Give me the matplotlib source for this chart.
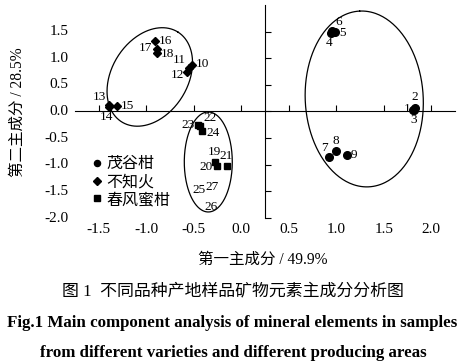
import numpy as np
import matplotlib
matplotlib.use("Agg")
import matplotlib.pyplot as plt
from matplotlib.transforms import offset_copy

cjk = ["Liberation Serif", "Noto Sans CJK SC"]

# 茂谷柑 (1-9)
mg_id = [1, 2, 3, 4, 5, 6, 7, 8, 9]
mg_x = [1.81, 1.83, 1.82, 0.95, 0.99, 0.96, 0.92, 1.00, 1.11]
mg_y = [0.03, 0.06, 0.02, 1.47, 1.49, 1.52, -0.85, -0.74, -0.81]

# 不知火 (10-18)
bz_id = [10, 11, 12, 13, 14, 15, 16, 17, 18]
bz_x = [-0.52, -0.55, -0.57, -1.39, -1.39, -1.31, -0.91, -0.89, -0.89]
bz_y = [0.87, 0.81, 0.74, 0.13, 0.08, 0.10, 1.32, 1.18, 1.10]

# 春风蜜柑 (19-27), 25-27 only labelled
cf_id = [19, 20, 21, 22, 23, 24, 25, 26, 27]
cf_x = [-0.28, -0.26, -0.15, -0.43, -0.46, -0.41, -0.44, -0.32, -0.31]
cf_y = [-0.94, -1.03, -1.03, -0.28, -0.25, -0.36, -1.47, -1.79, -1.42]
cf_shown = [True, True, True, True, True, True, False, False, False]

groups = ["茂谷柑", "不知火", "春风蜜柑"]

x_ticks = [-1.5, -1.0, -0.5, 0.0, 0.5, 1.0, 1.5, 2.0]
y_ticks = [1.5, 1.0, 0.5, 0.0, -0.5, -1.0, -1.5, -2.0]

# ellipses: center (data), semi-axes (px), angle (deg on screen)
ell_cx = [1.295, -0.963, -0.347]
ell_cy = [0.235, 0.648, -0.948]
ell_a = [88, 53, 50]
ell_b = [59, 38, 24]
ell_ang = [93, 58, 90]

# label offsets in px (dx, dy, ha, va)
offs = {
    1: (-3, 1, "right", "center"), 2: (0, 5, "center", "bottom"), 3: (0, -4, "center", "top"),
    4: (-2, -4, "center", "top"), 5: (4, -1, "left", "center"), 6: (3, 3, "left", "bottom"),
    7: (-1, 3, "right", "bottom"), 8: (0, 4, "center", "bottom"), 9: (4, 0, "left", "center"),
    10: (4, 1, "left", "center"), 11: (-3, 2, "right", "bottom"), 12: (-3, -3, "right", "center"),
    13: (-3, 2, "right", "bottom"), 14: (-3, -4, "center", "top"), 15: (4, 0, "left", "center"),
    16: (4, 0, "left", "center"), 17: (-5, 1, "right", "center"), 18: (4, -1, "left", "center"),
    19: (0, 4, "center", "bottom"), 20: (-4, -1, "right", "center"), 21: (-1, 4, "center", "bottom"),
    22: (3, 2, "left", "bottom"), 23: (-3, 0, "right", "center"), 24: (4, -2, "left", "center"),
    25: (0, 0, "center", "center"), 26: (0, 0, "center", "center"), 27: (0, 0, "center", "center"),
}

fig = plt.figure(figsize=(4.69, 3.63), dpi=100)
ax = fig.add_axes([0.160, 0.3994, 0.810, 0.587])
xlim = (-1.75, 2.25)
ylim = (-2.0, 2.0)
ax.set_xlim(*xlim)
ax.set_ylim(*ylim)

ax.spines["top"].set_visible(False)
ax.spines["right"].set_visible(False)
ax.spines["left"].set_position(("data", 0.25))
ax.spines["bottom"].set_position(("data", 0.0))
for s in ["left", "bottom"]:
    ax.spines[s].set_linewidth(0.8)
ax.set_xticks(x_ticks)
ax.set_yticks(y_ticks)
ax.tick_params(direction="in", length=4.5, width=0.8, labelleft=False, labelbottom=False)

# tick labels along the outer edges
for v in y_ticks:
    ax.text(-0.018, v, f"{v:.1f}", transform=ax.get_yaxis_transform(), ha="right", va="center",
            fontsize=11, family="Liberation Serif")
for v in x_ticks:
    ax.text(v, -0.025, f"{v:.1f}", transform=ax.get_xaxis_transform(), ha="center", va="top",
            fontsize=11, family="Liberation Serif")

# px per data unit
pos = ax.get_position()
sx = pos.width * 469 / (xlim[1] - xlim[0])
sy = pos.height * 363 / (ylim[1] - ylim[0])
t = np.linspace(0, 2 * np.pi, 300)
for cx, cy, a, b, ang in zip(ell_cx, ell_cy, ell_a, ell_b, ell_ang):
    th = np.radians(ang)
    dx = a * np.cos(t) * np.cos(th) - b * np.sin(t) * np.sin(th)
    dy = a * np.cos(t) * np.sin(th) + b * np.sin(t) * np.cos(th)
    ax.plot(cx + dx / sx, cy + dy / sy, color="black", lw=0.9)

ax.plot(mg_x, mg_y, "o", color="black", ms=5.5, label=groups[0], ls="none")
ax.plot(bz_x, bz_y, "D", color="black", ms=4.5, label=groups[1], ls="none")
cfx = [x for x, s in zip(cf_x, cf_shown) if s]
cfy = [y for y, s in zip(cf_y, cf_shown) if s]
ax.plot(cfx, cfy, "s", color="black", ms=5, label=groups[2], ls="none")

for ids, xs, ys in [(mg_id, mg_x, mg_y), (bz_id, bz_x, bz_y), (cf_id, cf_x, cf_y)]:
    for i, x, y in zip(ids, xs, ys):
        dx, dy, ha, va = offs[i]
        tr = offset_copy(ax.transData, fig=fig, x=dx * 0.72, y=dy * 0.72, units="points")
        ax.text(x, y, str(i), transform=tr, ha=ha, va=va, fontsize=9.5, family="Liberation Serif")

leg = ax.legend(loc="upper left", bbox_to_anchor=(0.02, 0.335), frameon=False,
                prop={"family": cjk, "size": 11.5}, handlelength=0.6, handletextpad=0.3,
                labelspacing=0.12, borderpad=0.1, markerscale=0.8)

fig.text(0.038, 0.691, "第二主成分 / 28.5%", rotation=90, ha="center", va="center",
         fontsize=11.2, family=cjk)
fig.text(0.561, 0.284, "第一主成分 / 49.9%", ha="center", va="center", fontsize=11.2, family=cjk)
fig.text(0.497, 0.196, "图 1  不同品种产地样品矿物元素主成分分析图", ha="center", va="center",
         fontsize=12.2, family=cjk)
fig.text(0.496, 0.110, "Fig.1 Main component analysis of mineral elements in samples",
         ha="center", va="center", fontsize=12.2, family="Liberation Serif", weight="bold")
fig.text(0.497, 0.028, "from different varieties and different producing areas",
         ha="center", va="center", fontsize=12.2, family="Liberation Serif", weight="bold")

fig.savefig("out.png", dpi=100)
